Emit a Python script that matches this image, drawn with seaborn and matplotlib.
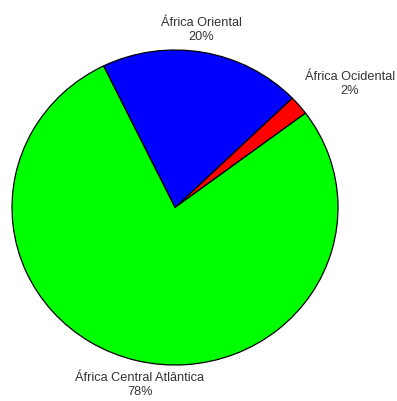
import matplotlib
matplotlib.use("Agg")
import matplotlib.pyplot as plt
import seaborn as sns

# dati del grafico a torta
regioni = ["África Ocidental", "África Oriental", "África Central Atlântica"]
percentuali = [2, 20, 78]
colori = ["#ff0000", "#0000ff", "#00ff00"]

sns.set_theme(style="white")
plt.rcParams['font.family'] = ['Liberation Sans', 'DejaVu Sans']

fig = plt.figure(figsize=(3.97, 4.01), dpi=100)
fig.patch.set_facecolor('white')

# posizione dell'asse in pixel: centro (175, 207.5), raggi 163 x 157.5
W, H = 397, 401
cx, cy, rx, ry = 175, 207.5, 163, 157.5
ax = fig.add_axes([(cx - rx) / W, (H - cy - ry) / H, 2 * rx / W, 2 * ry / H])

ax.pie(percentuali, colors=colori, startangle=36.8, counterclock=True,
       wedgeprops=dict(edgecolor='black', linewidth=0.9))
ax.set_aspect('auto')
ax.set_xlim(-1, 1)
ax.set_ylim(-1, 1)

# etichette (posizione in coordinate dati del cerchio)
pos_etichette = [(1.074, 0.784), (0.16, 1.127), (-0.215, -1.127)]
for nome, p, (x, y) in zip(regioni, percentuali, pos_etichette):
    ax.text(x, y, f"{nome}\n{p}%", ha='center', va='center', fontsize=9.2,
            color='#333333', linespacing=1.2, clip_on=False)

fig.savefig("out.png", dpi=100, facecolor='white')
